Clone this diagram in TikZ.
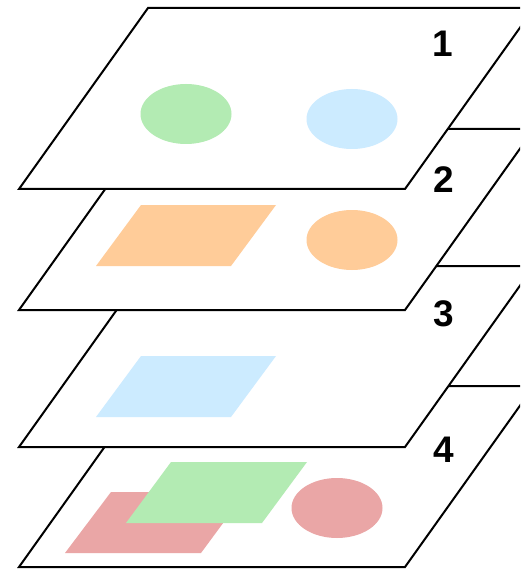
\documentclass[tikz,border=0pt]{standalone}
\usepackage{fontspec}
\setmainfont{Liberation Sans}
\definecolor{cgreen}{RGB}{179,235,179}
\definecolor{cblue}{RGB}{204,235,255}
\definecolor{corange}{RGB}{255,204,153}
\definecolor{cred}{RGB}{234,166,166}
\tikzset{
  layer/.style={draw=black, fill=white, line width=2pt, line join=miter},
  lbl/.style={font=\fontsize{37}{40}\selectfont\bfseries, inner sep=0pt, anchor=base},
  blob/.style={draw=none}
}
\newcommand{\layerat}[1]{%
  \path[layer] (19,#1) -- (405,#1) -- (534,#1-181) -- (148,#1-181) -- cycle;}
\begin{document}
\begin{tikzpicture}[x=1pt,y=-1pt]
\useasboundingbox (0,0) rectangle (520,569);
\clip (0,0) rectangle (520,569);
% layer 4
\layerat{567}
\fill[cred] (65,553) -- (201,553) -- (246,492) -- (111,492) -- cycle;
\fill[cgreen] (126,523) -- (262,523) -- (307,462) -- (171,462) -- cycle;
\fill[cred] (337,508) ellipse [x radius=45.5pt, y radius=30pt];
\node[lbl] (n4) at (444,462) {4};
% layer 3
\layerat{447}
\fill[cblue] (96,417) -- (231,417) -- (276,356) -- (141,356) -- cycle;
\node[lbl] (n3) at (444,326) {3};
% layer 2
\layerat{310}
\fill[corange] (96,266) -- (231,266) -- (276,205) -- (141,205) -- cycle;
\fill[corange] (352,240) ellipse [x radius=45.5pt, y radius=30pt];
\node[lbl] (n2) at (444,193) {2};
% layer 1
\layerat{189}
\fill[cgreen] (186,114) ellipse [x radius=45.5pt, y radius=30pt];
\fill[cblue] (352,119) ellipse [x radius=45.5pt, y radius=30pt];
\node[lbl] (n1) at (443,57) {1};
\end{tikzpicture}
\end{document}
